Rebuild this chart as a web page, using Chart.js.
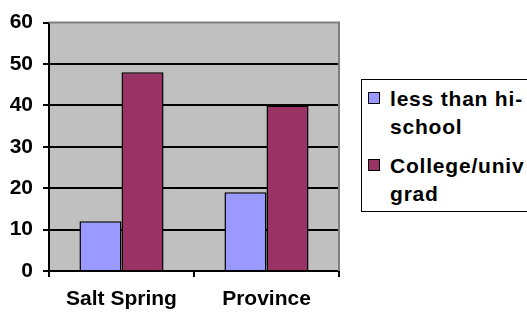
<!DOCTYPE html>
<html>
<head>
<meta charset="utf-8">
<script src="https://cdn.jsdelivr.net/npm/chart.js@4"></script>
<style>
    html, body { margin: 0; padding: 0; background: #fff; overflow: hidden; }
    #wrap { position: relative; width: 527px; height: 314px; }
    #legend {
        position: absolute; left: 361px; top: 79px; width: 200px; height: 131px;
        border: 1px solid #000; background: #fff;
        font-family: "Liberation Sans", Arial, sans-serif; font-weight: bold;
        font-size: 21px; letter-spacing: 0.8px; line-height: 28px;
    }
    .item { position: absolute; left: 28px; white-space: nowrap; }
    .swatch { position: absolute; left: -22px; top: 7px; width: 10px; height: 10px; border: 1px solid #000; }
</style>
</head>
<body>
<div id="wrap">
    <canvas id="chart" width="527" height="314"></canvas>
    <div id="legend"></div>
</div>
<script>
// Chart data
const categories = ['Salt Spring', 'Province'];
const lessThanHiSchool = [12, 19];
const collegeGrad = [48, 40];
const seriesNames = [['less than hi-', 'school'], ['College/univ', 'grad']];
const seriesColors = ['#9999ff', '#993366'];
const yTicks = [0, 10, 20, 30, 40, 50, 60];

const plotBackground = {
    id: 'plotBackground',
    beforeDraw(chart) {
        const { ctx, chartArea: a } = chart;
        ctx.save();
        ctx.fillStyle = '#c0c0c0';
        ctx.fillRect(a.left, a.top, a.right - a.left, a.bottom - a.top);
        ctx.restore();
    },
    afterDraw(chart) {
        const { ctx, chartArea: a } = chart;
        ctx.save();
        ctx.strokeStyle = '#808080';
        ctx.lineWidth = 2;
        ctx.beginPath();
        ctx.moveTo(a.left, a.top);
        ctx.lineTo(a.right, a.top);
        ctx.lineTo(a.right, a.bottom);
        ctx.stroke();
        ctx.restore();
    }
};

const tickFont = { family: 'Liberation Sans', size: 21, weight: 'bold' };

const chart = new Chart(document.getElementById('chart'), {
    type: 'bar',
    data: {
        labels: categories,
        datasets: [
            { label: seriesNames[0].join(' '), data: lessThanHiSchool, backgroundColor: seriesColors[0] },
            { label: seriesNames[1].join(' '), data: collegeGrad, backgroundColor: seriesColors[1] }
        ].map(d => Object.assign(d, { borderColor: '#000', borderWidth: 1.5, categoryPercentage: 0.58, barPercentage: 1 }))
    },
    options: {
        responsive: false,
        animation: false,
        layout: { padding: { top: 22, right: 188, left: 0, bottom: 0 } },
        plugins: { legend: { display: false }, tooltip: { enabled: false } },
        scales: {
            x: {
                afterFit: s => { s.height = 43; },
                grid: { offset: true, drawOnChartArea: false, color: '#000', lineWidth: 2, tickLength: 6 },
                border: { display: true, color: '#000', width: 2 },
                ticks: { color: '#000', padding: 10, font: tickFont }
            },
            y: {
                min: 0,
                max: 60,
                afterFit: s => { s.width = 49; },
                afterBuildTicks: s => { s.ticks = yTicks.map(v => ({ value: v })); },
                grid: {
                    color: c => (c.tick && c.tick.value === 60) ? 'rgba(0,0,0,0)' : '#000',
                    tickColor: '#000',
                    lineWidth: 2,
                    tickLength: 6
                },
                border: { display: true, color: '#000', width: 2 },
                ticks: { color: '#000', padding: 10, font: tickFont }
            }
        }
    },
    plugins: [plotBackground]
});

// Legend built from the series names
const legend = document.getElementById('legend');
const itemTops = [5, 72];
seriesNames.forEach((lines, i) => {
    const item = document.createElement('div');
    item.className = 'item';
    item.style.top = itemTops[i] + 'px';
    item.innerHTML = `<span class="swatch" style="background:${seriesColors[i]}"></span>${lines.join('<br>')}`;
    legend.appendChild(item);
});
</script>
</body>
</html>
